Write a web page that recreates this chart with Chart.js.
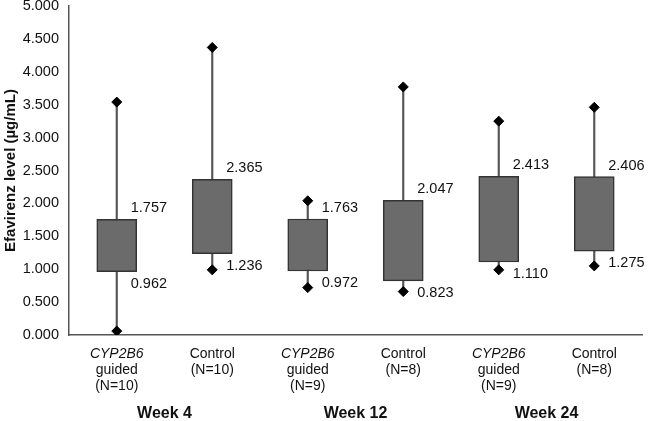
<!DOCTYPE html>
<html>
<head>
<meta charset="utf-8">
<script src="https://cdn.jsdelivr.net/npm/chart.js@4"></script>
<style>
  html, body { margin: 0; padding: 0; background: #fff; }
  #wrap { width: 648px; height: 421px; }
</style>
</head>
<body>
<div id="wrap"><canvas id="boxChart"></canvas></div>
<script>
// groups along the x axis
const groupTop = ['CYP2B6', 'Control', 'CYP2B6', 'Control', 'CYP2B6', 'Control'];
const groupRest = [['guided', '(N=10)'], ['(N=10)'], ['guided', '(N=9)'], ['(N=8)'], ['guided', '(N=9)'], ['(N=8)']];
const weeks = ['Week 4', 'Week 12', 'Week 24'];

// box ends (labelled values) and whisker ends
const boxLow = [0.962, 1.236, 0.972, 0.823, 1.110, 1.275];
const boxHigh = [1.757, 2.365, 1.763, 2.047, 2.413, 2.406];
const whiskMin = [0.06, 0.99, 0.72, 0.66, 0.99, 1.05];
const whiskMax = [3.54, 4.37, 2.04, 3.77, 3.25, 3.46];

const yTicks = [0, 0.5, 1, 1.5, 2, 2.5, 3, 3.5, 4, 4.5, 5];

const FONT = '"Liberation Sans", Arial, sans-serif';
const cats = groupTop.map((g, i) => 'g' + i);

// value labels beside the boxes + custom x labels
const labelPlugin = {
  id: 'boxLabels',
  afterDatasetsDraw(chart) {
    const { ctx, scales: { x, y } } = chart;
    ctx.save();
    ctx.fillStyle = '#111';
    ctx.font = '14.5px ' + FONT;
    ctx.textAlign = 'left';
    ctx.textBaseline = 'middle';
    cats.forEach((c, i) => {
      const cx = x.getPixelForValue(i);
      ctx.fillText(boxHigh[i].toFixed(3), cx + 14, y.getPixelForValue(boxHigh[i]) - 11);
      ctx.fillText(boxLow[i].toFixed(3), cx + 14, y.getPixelForValue(boxLow[i]) + 12);
    });
    // x labels
    ctx.textAlign = 'center';
    const base = chart.chartArea.bottom;
    cats.forEach((c, i) => {
      const cx = x.getPixelForValue(i);
      ctx.font = (groupTop[i] === 'CYP2B6' ? 'italic ' : '') + '14px ' + FONT;
      ctx.fillText(groupTop[i], cx, base + 19);
      ctx.font = '14px ' + FONT;
      groupRest[i].forEach((t, k) => ctx.fillText(t, cx, base + 35 + k * 16));
    });
    ctx.font = 'bold 16px ' + FONT;
    weeks.forEach((w, k) => {
      const cx = (x.getPixelForValue(2 * k) + x.getPixelForValue(2 * k + 1)) / 2;
      ctx.fillText(w, cx, base + 79);
    });
    ctx.restore();
  }
};

new Chart(document.getElementById('boxChart'), {
  type: 'bar',
  data: {
    labels: cats,
    datasets: [
      {
        label: 'whisker',
        data: whiskMin.map((v, i) => [v, whiskMax[i]]),
        backgroundColor: '#555',
        borderWidth: 0,
        barThickness: 1.5,
        grouped: false,
        order: 3
      },
      {
        label: 'box',
        data: boxLow.map((v, i) => [v, boxHigh[i]]),
        backgroundColor: '#6b6b6b',
        borderColor: '#333',
        borderWidth: 1.5,
        borderSkipped: false,
        barThickness: 40,
        grouped: false,
        order: 1
      },
      {
        type: 'line',
        label: 'max',
        data: whiskMax,
        showLine: false,
        pointStyle: 'rectRot',
        pointRadius: 5,
        pointBackgroundColor: '#000',
        pointBorderColor: '#000',
        order: 0
      },
      {
        type: 'line',
        label: 'min',
        data: whiskMin,
        showLine: false,
        pointStyle: 'rectRot',
        pointRadius: 5,
        pointBackgroundColor: '#000',
        pointBorderColor: '#000',
        order: 0
      }
    ]
  },
  options: {
    responsive: true,
    maintainAspectRatio: false,
    animation: false,
    layout: { padding: { top: 5, right: 0, left: 0, bottom: 0 } },
    scales: {
      x: {
        grid: { display: false, drawTicks: false },
        border: { color: '#555', width: 1.5 },
        ticks: { display: false },
        afterFit: (s) => { s.height = 86; s.paddingLeft = 0; s.paddingRight = 0; }
      },
      y: {
        min: 0,
        max: 5,
        grid: { display: false, drawTicks: false },
        border: { color: '#555', width: 1.5 },
        afterBuildTicks: (s) => { s.ticks = yTicks.map(v => ({ value: v })); },
        ticks: {
          color: '#111',
          padding: 10,
          font: { family: FONT, size: 14.5 },
          callback: (v) => Number(v).toFixed(3)
        },
        title: {
          display: true,
          text: 'Efavirenz level (µg/mL)',
          color: '#111',
          padding: { top: 2, bottom: 0 },
          font: { family: FONT, size: 15, weight: 'bold' }
        },
        afterFit: (s) => { s.width = 69; s.paddingTop = 0; s.paddingBottom = 0; }
      }
    },
    plugins: {
      legend: { display: false },
      tooltip: { enabled: false }
    }
  },
  plugins: [labelPlugin]
});
</script>
</body>
</html>
